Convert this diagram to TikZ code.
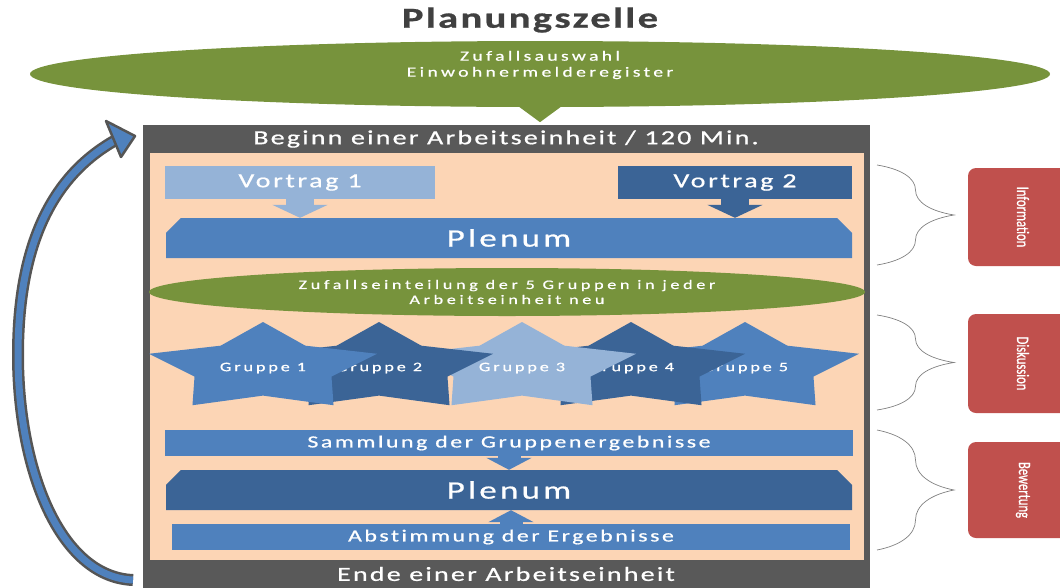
\documentclass[tikz,border=0pt]{standalone}
\usepackage{fontspec}
\setmainfont{Carlito}[FakeStretch=1.4, LetterSpace=12, FakeBold=0.8, Ligatures=NoCommon]
\newfontfamily\labelfont{Carlito}[FakeStretch=0.72, FakeBold=0.6]
\usetikzlibrary{shapes.geometric,shapes.misc,arrows.meta,decorations.pathreplacing}

\definecolor{olive}{HTML}{77933C}
\definecolor{bandgray}{HTML}{595959}
\definecolor{peach}{HTML}{FCD5B5}
\definecolor{lightblue}{HTML}{95B3D7}
\definecolor{midblue}{HTML}{4F81BD}
\definecolor{darkblue}{HTML}{3B6496}
\definecolor{redbox}{HTML}{C0504D}
\definecolor{titlegray}{HTML}{404040}
\definecolor{loopgray}{HTML}{555555}

\begin{document}
\begin{tikzpicture}[x=1pt,y=-1pt]
 \tikzset{
  titletext/.style={text=titlegray, inner sep=0pt,
    font=\fontsize{29}{35}\selectfont\bfseries\addfontfeature{LetterSpace=8}},
  bigellipse/.style={ellipse, fill=olive, inner sep=0pt,
    minimum width=1020, minimum height=66},
  ellipsetext/.style={text=white, align=center, inner sep=0pt,
    font=\fontsize{14}{16}\selectfont\addfontfeature{LetterSpace=24}},
  smallellipse/.style={ellipse, fill=olive, text=white, align=center,
    inner sep=0pt, minimum width=716, minimum height=48,
    font=\fontsize{13}{15}\selectfont\addfontfeature{LetterSpace=28}},
  bandtext/.style={text=white, inner sep=0pt,
    font=\fontsize{20}{24}\selectfont\addfontfeature{LetterSpace=11}},
  bar/.style={rectangle, fill=#1, text=white, inner sep=0pt},
  bartext/.style={font=\fontsize{17}{20}\selectfont\addfontfeature{LetterSpace=15}},
  plenum/.style={chamfered rectangle,
    chamfered rectangle corners={north west,north east},
    chamfered rectangle xsep=16pt, chamfered rectangle ysep=6pt,
    fill=#1, text=white, inner sep=0pt,
    minimum width=686, minimum height=40,
    font=\fontsize{25}{30}\selectfont\addfontfeature{LetterSpace=13}},
  push/.style={line width=28pt, -{Triangle[width=55pt,length=13pt]}},
  pushsmall/.style={line width=23pt, -{Triangle[width=45pt,length=12pt]}},
  grouptext/.style={text=white, inner sep=0pt,
    font=\fontsize{13}{16}\selectfont\addfontfeature{LetterSpace=22}},
  phasebrace/.style={draw=gray, line width=0.7pt, decorate,
    decoration={brace, amplitude=77pt}},
  phase/.style={rectangle, rounded corners=8pt, fill=redbox, text=white,
    rotate=-90, inner sep=0pt, minimum height=110,
    font=\labelfont\fontsize{17.5}{20}\selectfont},
 }
 \path[use as bounding box, clip] (0,0) rectangle (1060,587);

 % head
 \node[titletext] (title) at (530,20) {Planungszelle};
 \node[bigellipse] (auswahl) at (540,74) {};
 \node[ellipsetext] (auswahltext) at ([yshift=9pt]auswahl.center)
   {Zufallsauswahl\\Einwohnermelderegister};
 \draw[olive, line width=38pt, -{Triangle[width=64pt,length=24pt]}]
   ([yshift=12pt]auswahl.south) -- ++(0,27);

 % frame of one Arbeitseinheit
 \fill[bandgray] (143,125) rectangle (870,600);
 \fill[peach] (150,153) rectangle (864,560);
 \node[bandtext] (beginn) at (506,139) {Beginn einer Arbeitseinheit / 120 Min.};
 \node[bandtext] (ende) at (506,574) {Ende einer Arbeitseinheit};

 % information
 \node[bar=lightblue, minimum width=270, minimum height=33,
   font=\fontsize{20}{24}\selectfont\addfontfeature{LetterSpace=13}]
   (vortrag1) at (300,182.5) {Vortrag 1};
 \node[bar=darkblue, minimum width=234, minimum height=33,
   font=\fontsize{20}{24}\selectfont\addfontfeature{LetterSpace=13}]
   (vortrag2) at (735,182.5) {Vortrag 2};
 \node[plenum=midblue] (plenum1) at (509,238) {Plenum};
 \draw[push, lightblue] (vortrag1.south) -- (vortrag1.south |- plenum1.north);
 \draw[push, darkblue] (vortrag2.south) -- (vortrag2.south |- plenum1.north);

 % discussion
 \node[smallellipse] (einteilung) at (507,292)
   {Zufallseinteilung der 5 Gruppen in jeder\\Arbeitseinheit neu};
 \foreach \cx/\cl/\n in {745/midblue/5, 631/darkblue/4, 522/lightblue/3,
                         379/darkblue/2, 263/midblue/1} {
   \fill[\cl] plot[samples at={0,...,9}, variable=\k]
     ({\cx+(1-0.4*mod(\k,2))*120*sin(36*\k)},
      {368-(1-0.4*mod(\k,2))*46*cos(36*\k)}) -- cycle;
   \node[grouptext] (gruppe\n) at (\cx,368) {Gruppe \n};
 }

 % evaluation
 \node[bar=midblue, bartext, minimum width=688, minimum height=26]
   (sammlung) at (509,443) {Sammlung der Gruppenergebnisse};
 \node[plenum=darkblue] (plenum2) at (509,490) {Plenum};
 \node[bar=midblue, bartext, minimum width=678, minimum height=26]
   (abstimmung) at (511,537) {Abstimmung der Ergebnisse};
 \draw[pushsmall, midblue] (sammlung.south) -- (sammlung.south |- plenum2.north);
 \draw[pushsmall, midblue] (abstimmung.north) -- (abstimmung.north |- plenum2.south);

 % loop back to the next Arbeitseinheit
 \coordinate (loopstart) at (133,580);
 \coordinate (loopend) at (114,141);
 \draw[loopgray, line width=12pt] (loopstart) .. controls (60,577) and (18,470)
   .. (18,355) .. controls (18,240) and (55,175) .. (loopend);
 \draw[midblue, line width=7pt] (loopstart) .. controls (60,577) and (18,470)
   .. (18,355) .. controls (18,240) and (55,175) .. (loopend);
 \filldraw[fill=midblue, draw=loopgray, line width=2.5pt, line join=round]
   (106,121) -- (135,136) -- (121,157) -- cycle;

 % phases
 \foreach \bt/\bb/\rt/\rb/\lab in {165/265/168/266/Information,
     315/410/314/413/Diskussion, 430/550/442/538/Bewertung} {
   \draw[phasebrace] (877,\bt) -- (877,\bb);
   \node[phase, minimum width=\rb-\rt] (\lab) at (1023,{(\rt+\rb)/2}) {\lab};
 }
\end{tikzpicture}
\end{document}
